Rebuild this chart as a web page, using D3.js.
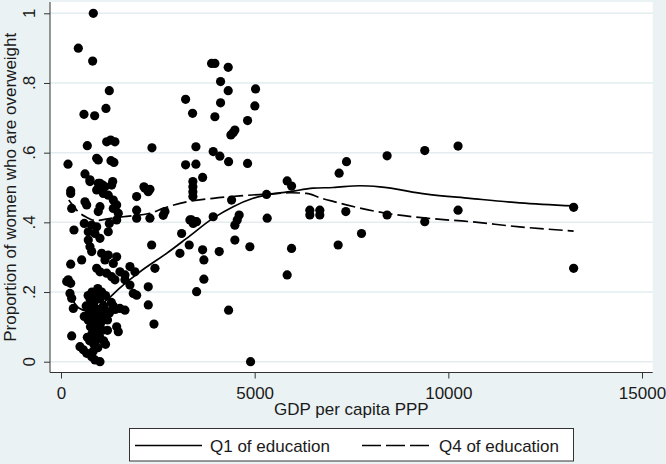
<!DOCTYPE html>
<html>
<head>
<meta charset="utf-8">
<script src="https://cdn.jsdelivr.net/npm/d3@7"></script>
<style>
  html, body { margin: 0; padding: 0; background: #eaf2f3; }
  svg { display: block; font-family: "Liberation Sans", Arial, sans-serif; }
</style>
</head>
<body>
<div id="chart"></div>
<script>
// GDP per capita PPP of each country
const gdpPerCapita = [
  834, 447, 817, 1247, 1161, 593, 869,
  3217, 3397, 3888, 3973, 4317, 4120, 4317, 4120, 5023, 5005, 3973, 4817, 4445, 4386, 4489,
  679, 1179, 1282, 1393, 2348, 3483, 3929, 4102, 4327, 4817,
  181, 921, 962, 1290, 1367, 3217, 3483,
  619, 748, 962, 1076, 1334, 2141, 2296, 3656, 3405, 3405, 3405, 3405, 250,
  5839, 5953, 7181, 7371, 8419, 9391, 10251, 5307,
  748, 1006, 1135, 1308, 921, 1092, 1220, 1350, 1437,
  250, 2167, 2253, 1953, 619, 663, 276, 1006, 962, 1350, 1479, 1953, 1953, 2296, 2683, 2640,
  3328, 3457, 601, 792, 921, 1247, 1437, 335, 704, 877, 1220, 1006, 3114, 2340, 704, 748, 792,
  3070, 3310, 3656, 3689, 1050, 1220, 1437, 1135, 1350, 534, 250, 921, 1006, 1780, 1909, 1651,
  1522, 2425, 1179, 1308, 1393, 188, 250, 147, 1651, 1780, 1866, 1953, 2253, 3501, 3689, 232,
  276, 2253, 1651, 1522, 1350, 318, 2400, 1437, 1479, 276, 490, 576, 663, 792, 877, 1006,
  3372, 3501, 3413, 3929, 4085, 4404, 4600, 4549, 4489, 4489, 4327, 4876, 4894, 5323, 5839, 5952,
  6424, 6424, 6682, 6682, 7155, 7353, 7758, 8419, 9391, 10251, 13235, 13235,
  700, 750, 800, 850, 900, 950, 1000, 1050, 1100, 1150,
  650, 720, 780, 830, 880, 930, 980, 1030, 1080, 1130,
  600, 700, 760, 820, 870, 920, 970, 1020, 1070, 1200,
  680, 740, 800, 850, 900, 950, 1000, 1100, 1250, 1300,
  1350, 1400, 1200, 1150, 830
];

// proportion of women who are overweight, same order
const propOverweight = [
  1.0, .90, .863, .778, .727, .710, .706,
  .753, .713, .856, .856, .845, .804, .778, .743, .783, .734, .703, .692, .657, .651, .665,
  .62, .631, .636, .631, .614, .617, .603, .59, .574, .569,
  .567, .584, .579, .577, .572, .565, .567,
  .539, .522, .512, .507, .517, .502, .495, .529, .517, .502, .488, .474, .491,
  .519, .504, .541, .574, .591, .606, .619, .48,
  .517, .512, .502, .507, .493, .483, .478, .464, .45,
  .483, .498, .488, .474, .459, .45, .44, .445, .431, .44, .426, .435, .412, .412, .431, .42,
  .407, .402, .397, .392, .387, .397, .407, .378, .373, .368, .373, .354, .368, .335, .349, .33, .316,
  .311, .335, .321, .292, .311, .306, .301, .292, .282, .292, .28, .268, .258, .273, .258, .249,
  .258, .268, .254, .244, .235, .235, .225, .23, .235, .22, .196, .191, .215, .201, .237, .196,
  .182, .163, .148, .153, .158, .153, .108, .1, .086, .074, .043, .034, .024, .014, .005, 0,
  .407, .402, .397, .416, .316, .464, .421, .407, .392, .349, .148, .33, 0, .412, .249, .325,
  .435, .421, .435, .421, .335, .431, .368, .421, .402, .435, .443, .268,
  .19, .18, .2, .17, .19, .21, .18, .2, .16, .19,
  .16, .15, .14, .16, .13, .15, .12, .14, .13, .15,
  .13, .12, .1, .11, .09, .1, .08, .11, .09, .12,
  .07, .06, .08, .05, .06, .04, .07, .06, .14, .17,
  .16, .15, .09, .05, .03
];

// smoothed curves [gdp, proportion]
const q1Curve = [
  [230, .19], [450, .155], [700, .145], [900, .155], [1179, .177], [1500, .21], [2038, .258],
  [2727, .311], [3243, .354], [3929, .412], [4445, .445], [4961, .469], [5565, .483], [5908, .488],
  [6509, .498], [7025, .5], [7714, .505], [8230, .502], [9435, .481], [10552, .469], [11842, .456],
  [13235, .447]
];
const q4Curve = [
  [200, .464], [450, .43], [650, .415], [900, .405], [1200, .41], [1600, .416], [2296, .426],
  [2640, .44], [3243, .459], [3929, .469], [4616, .476], [5307, .481], [5908, .485], [6337, .483],
  [6700, .47], [7025, .46], [7370, .45], [8400, .426], [9435, .412], [10552, .402], [11842, .387],
  [13235, .375]
];

const xTicks = [0, 5000, 10000, 15000];
const yTicks = [0, .2, .4, .6, .8, 1];
const yTickLabels = ["0", ".2", ".4", ".6", ".8", "1"];
const legendLabels = ["Q1 of education", "Q4 of education"];

const width = 666, height = 464;
const plot = { left: 50, right: 652.7, top: 2, bottom: 372.5 };

const svg = d3.select("#chart").append("svg")
  .attr("width", width).attr("height", height);

svg.append("rect").attr("width", width).attr("height", height).attr("fill", "#eaf2f3");
svg.append("rect")
  .attr("x", plot.left).attr("y", plot.top)
  .attr("width", plot.right - plot.left).attr("height", plot.bottom - plot.top)
  .attr("fill", "#fff");

const x = d3.scaleLinear().domain([0, 15000]).range([61, 642]);
const y = d3.scaleLinear().domain([0, 1]).range([361.7, 13.3]);

// gridlines
svg.append("g").selectAll("line").data(yTicks).join("line")
  .attr("x1", plot.left).attr("x2", plot.right)
  .attr("y1", d => y(d)).attr("y2", d => y(d))
  .attr("stroke", "#e3ecef").attr("stroke-width", 1.5);

// points
svg.append("g").selectAll("circle").data(gdpPerCapita).join("circle")
  .attr("cx", d => x(d))
  .attr("cy", (d, i) => y(propOverweight[i]))
  .attr("r", 4.6)
  .attr("fill", "#000");

// lines
const line = d3.line().x(d => x(d[0])).y(d => y(d[1])).curve(d3.curveMonotoneX);
svg.append("path").datum(q1Curve)
  .attr("fill", "none").attr("stroke", "#000").attr("stroke-width", 1.7)
  .attr("d", line);
svg.append("path").datum(q4Curve)
  .attr("fill", "none").attr("stroke", "#000").attr("stroke-width", 1.7)
  .attr("stroke-dasharray", "14,5")
  .attr("d", line);

// axes
const xAxis = svg.append("g")
  .attr("transform", `translate(0,${plot.bottom})`)
  .call(d3.axisBottom(x).tickValues(xTicks).tickFormat(d3.format("d"))
    .tickSize(6).tickPadding(8).tickSizeOuter(0));
xAxis.select(".domain").attr("d", `M${plot.left},0H${plot.right}`).attr("stroke", "#333");
xAxis.selectAll(".tick line").attr("stroke", "#333");
xAxis.selectAll("text").attr("font-size", 17).attr("fill", "#1a1a1a")
  .attr("font-family", "Liberation Sans, Arial, sans-serif");

const yAxis = svg.append("g")
  .attr("transform", `translate(${plot.left},0)`)
  .call(d3.axisLeft(y).tickValues(yTicks).tickSize(6).tickFormat(""));
yAxis.select(".domain").attr("d", `M0,${plot.top}V${plot.bottom}`).attr("stroke", "#333");
yAxis.selectAll(".tick line").attr("stroke", "#333");

svg.append("g").selectAll("text").data(yTicks).join("text")
  .attr("transform", d => `translate(35,${y(d)}) rotate(-90)`)
  .attr("text-anchor", "middle")
  .attr("font-size", 17).attr("fill", "#1a1a1a")
  .text((d, i) => yTickLabels[i]);

// axis titles
svg.append("text")
  .attr("x", (plot.left + plot.right) / 2).attr("y", 415)
  .attr("text-anchor", "middle").attr("font-size", 17).attr("fill", "#1a1a1a")
  .text("GDP per capita PPP");
svg.append("text")
  .attr("transform", `translate(16,${(plot.top + plot.bottom) / 2}) rotate(-90)`)
  .attr("text-anchor", "middle").attr("font-size", 17).attr("fill", "#1a1a1a")
  .text("Proportion of women who are overweight");

// legend
const legend = svg.append("g");
legend.append("rect")
  .attr("x", 129.5).attr("y", 428.5).attr("width", 444).attr("height", 32.5)
  .attr("fill", "#fff").attr("stroke", "#333").attr("stroke-width", 1);
const legendItems = [
  { x1: 135, x2: 202, tx: 210, dash: null },
  { x1: 362, x2: 429, tx: 439, dash: "19,5" }
];
legendItems.forEach((d, i) => {
  legend.append("line")
    .attr("x1", d.x1).attr("x2", d.x2).attr("y1", 445.5).attr("y2", 445.5)
    .attr("stroke", "#000").attr("stroke-width", 1.7)
    .attr("stroke-dasharray", d.dash);
  legend.append("text")
    .attr("x", d.tx).attr("y", 451.5)
    .attr("font-size", 17).attr("fill", "#1a1a1a")
    .text(legendLabels[i]);
});
</script>
</body>
</html>
